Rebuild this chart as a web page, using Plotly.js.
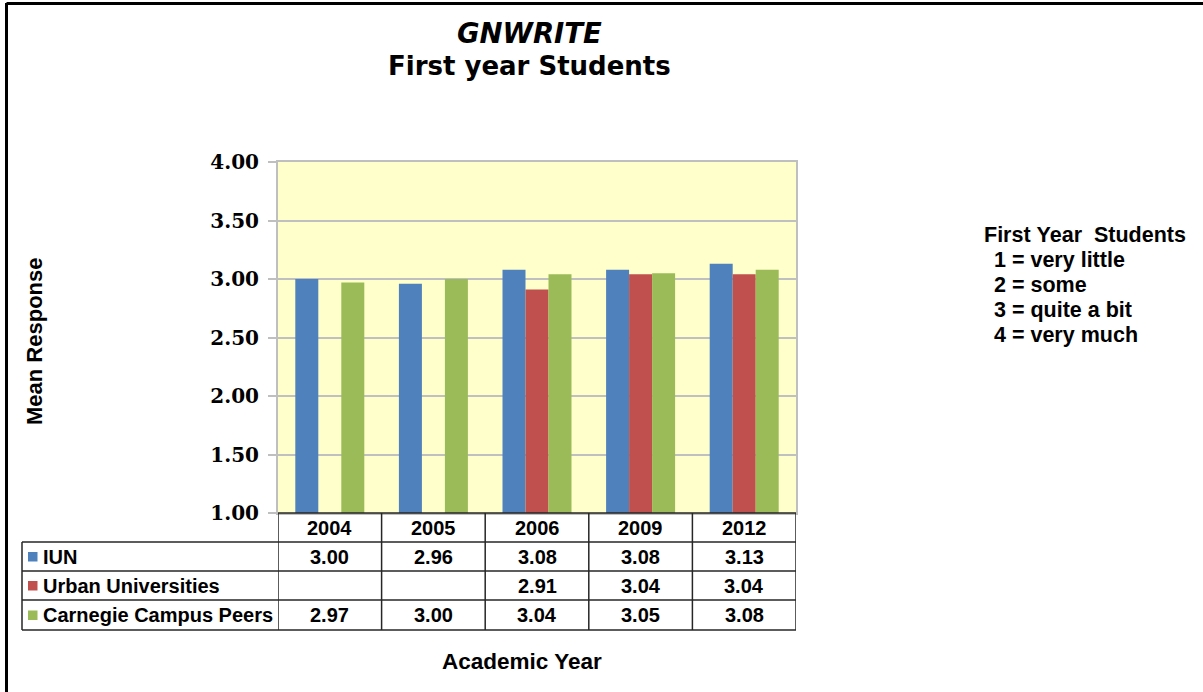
<!DOCTYPE html>
<html><head><meta charset="utf-8">
<script src="https://cdn.plot.ly/plotly-3.0.1.min.js"></script>
<style>html,body{margin:0;padding:0;background:#fff;}#chart{width:1203px;height:692px;}</style>
</head><body><div id="chart"></div>
<script>
var years = ['2004','2005','2006','2009','2012'];
var seriesNames = ['IUN','Urban Universities','Carnegie Campus Peers'];
var iun = [3.00, 2.96, 3.08, 3.08, 3.13];
var urban = [null, null, 2.91, 3.04, 3.04];
var carnegie = [2.97, 3.00, 3.04, 3.05, 3.08];
var colors = ['#4F81BD','#C0504D','#9BBB59'];
var keyTitle = 'First Year  Students';
var keyLines = ['1 = very little','2 = some','3 = quite a bit','4 = very much'];
var titleLine1 = 'GNWRITE';
var titleLine2 = 'First year Students';
var yTitle = 'Mean Response';
var xTitle = 'Academic Year';

var allSeries = [iun, urban, carnegie];
var traces = allSeries.map(function(v,i){
  return {type:'bar', x:years, y:v, name:seriesNames[i], marker:{color:colors[i], line:{width:0}}, hoverinfo:'x+y'};
});

// geometry in paper units (plot: 278..796 x, 162..513 y)
var W = 518, H = 351;
function px(x){return (x-278)/W;}
function py(y){return (513-y)/H;}
var rowEdges = [513, 542, 571, 600, 630];
var leftX = px(22);
var lineCol = '#262626';
var shapes = [];
shapes.push({type:'line', xref:'paper', yref:'paper', x0:0, x1:1, y0:py(513), y1:py(513), line:{color:lineCol, width:1.5}});
for (var r=1;r<rowEdges.length;r++){
  shapes.push({type:'line', xref:'paper', yref:'paper', x0:leftX, x1:1, y0:py(rowEdges[r]), y1:py(rowEdges[r]), line:{color:lineCol, width:1.5}});
}
for (var c=0;c<=years.length;c++){
  shapes.push({type:'line', xref:'x', yref:'paper', x0:c-0.5, x1:c-0.5, y0:py(513), y1:py(630), line:{color:lineCol, width:1.5}});
}
shapes.push({type:'line', xref:'paper', yref:'paper', x0:leftX, x1:leftX, y0:py(542), y1:py(630), line:{color:lineCol, width:1.5}});
for (var s=0;s<3;s++){
  var yc = (rowEdges[s+1]+rowEdges[s+2])/2;
  shapes.push({type:'rect', xref:'paper', yref:'paper', x0:px(28), x1:px(37.5), y0:py(yc+5), y1:py(yc-4.5), fillcolor:colors[s], line:{width:0}});
}
shapes.push({type:'line', xref:'paper', yref:'paper', x0:px(6.5), x1:px(1203), y0:py(3.5), y1:py(3.5), line:{color:'#000', width:3}});
shapes.push({type:'line', xref:'paper', yref:'paper', x0:px(6.5), x1:px(6.5), y0:py(3), y1:py(692), line:{color:'#000', width:3}});

var tf = {family:'Liberation Sans, Arial, sans-serif', size:20, color:'#000'};
var ann = [];
years.forEach(function(yr,i){
  ann.push({xref:'x', yref:'paper', x:i, y:py(527.5), text:'<b>'+yr+'</b>', showarrow:false, font:tf, xanchor:'center', yanchor:'middle'});
});
allSeries.forEach(function(v,s){
  var yc = (rowEdges[s+1]+rowEdges[s+2])/2;
  ann.push({xref:'paper', yref:'paper', x:px(41), y:py(yc), text:'<b>'+seriesNames[s]+'</b>', showarrow:false, font:tf, xanchor:'left', yanchor:'middle'});
  v.forEach(function(val,i){
    if (val===null) return;
    ann.push({xref:'x', yref:'paper', x:i, y:py(yc), text:'<b>'+val.toFixed(2)+'</b>', showarrow:false, font:tf, xanchor:'center', yanchor:'middle'});
  });
});
ann.push({xref:'paper', yref:'paper', x:px(529), y:py(33), text:'<b><i>'+titleLine1+'</i></b>', showarrow:false, font:{family:'DejaVu Sans, Verdana, sans-serif', size:27.5, color:'#000'}, xanchor:'center', yanchor:'middle'});
ann.push({xref:'paper', yref:'paper', x:px(529), y:py(66), text:'<b>'+titleLine2+'</b>', showarrow:false, font:{family:'DejaVu Sans, Verdana, sans-serif', size:26, color:'#000'}, xanchor:'center', yanchor:'middle'});
ann.push({xref:'paper', yref:'paper', x:px(34), y:py(341), text:'<b>'+yTitle+'</b>', textangle:-90, showarrow:false, font:{family:'Liberation Sans, Arial, sans-serif', size:22, color:'#000'}, xanchor:'center', yanchor:'middle'});
ann.push({xref:'paper', yref:'paper', x:px(522), y:py(661), text:'<b>'+xTitle+'</b>', showarrow:false, font:{family:'Liberation Sans, Arial, sans-serif', size:22.5, color:'#000'}, xanchor:'center', yanchor:'middle'});
var kf = {family:'Liberation Sans, Arial, sans-serif', size:21.5, color:'#000'};
ann.push({xref:'paper', yref:'paper', x:px(982), y:py(235), text:'<b>'+keyTitle.replace(/ /g,'\u00A0')+'</b>', showarrow:false, font:kf, xanchor:'left', yanchor:'middle'});
keyLines.forEach(function(t,i){
  ann.push({xref:'paper', yref:'paper', x:px(992), y:py(260+25*i), text:'<b>'+t+'</b>', showarrow:false, font:kf, xanchor:'left', yanchor:'middle'});
});

var layout = {
  width:1203, height:692,
  margin:{l:278, r:407, t:162, b:179, pad:0},
  paper_bgcolor:'#FFFFFF', plot_bgcolor:'#FFFFCC',
  barmode:'group', bargap:0.334, bargroupgap:0,
  showlegend:false,
  xaxis:{type:'category', range:[-0.5,4.5], showticklabels:false, ticks:'', showgrid:false, zeroline:false, showline:true, linecolor:'#BFBFBF', linewidth:2, mirror:true, fixedrange:true},
  yaxis:{range:[1,4], dtick:0.5, tick0:1, tickformat:'.2f', ticks:'outside', ticklen:8, tickwidth:2, tickcolor:'#BFBFBF', ticklabelstandoff:5,
         tickfont:{family:'DejaVu Serif, serif', size:20, color:'#000', weight:'bold'},
         showgrid:true, gridcolor:'#C0C0C0', gridwidth:2, zeroline:false, showline:true, linecolor:'#BFBFBF', linewidth:2, mirror:true, fixedrange:true},
  shapes:shapes, annotations:ann
};
Plotly.newPlot('chart', traces, layout, {displayModeBar:false, staticPlot:true});
</script></body></html>
